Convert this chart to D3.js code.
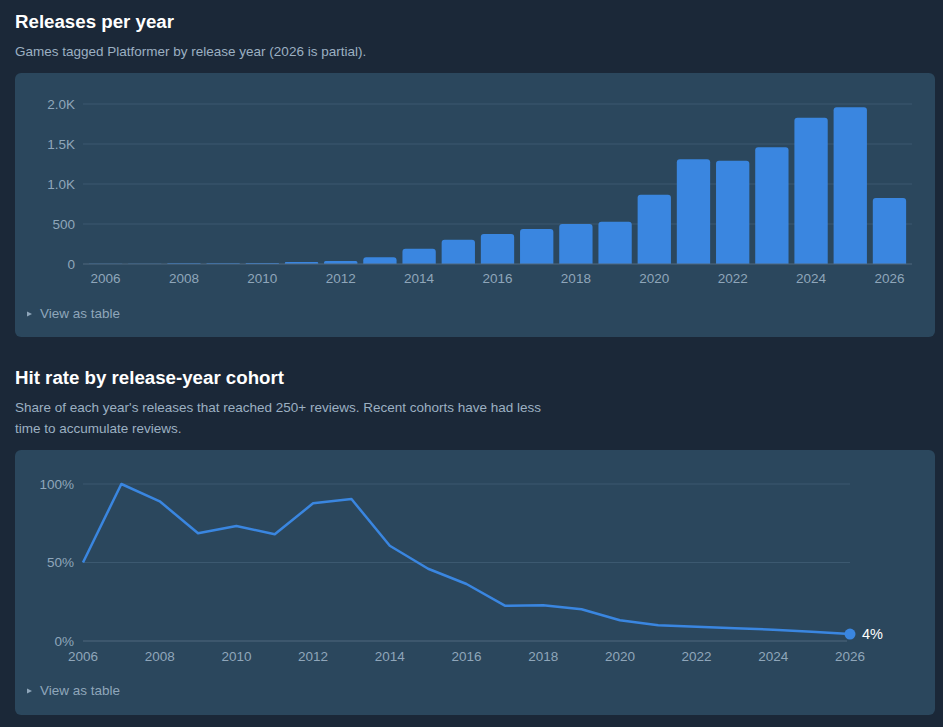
<!DOCTYPE html>
<html>
<head>
<meta charset="utf-8">
<script src="https://cdn.jsdelivr.net/npm/d3@7"></script>
<style>
  body { margin: 0; background: #1b2838; font-family: "Liberation Sans", Arial, sans-serif; }
  svg { display: block; }
</style>
</head>
<body>
<svg id="chart" width="943" height="727"></svg>
<script>
// releases per year (games tagged Platformer)
const years = d3.range(2006, 2027);
const releases = [2, 3, 8, 10, 12, 25, 38, 83, 192, 304, 375, 437, 500, 529, 867, 1308, 1292, 1458, 1829, 1960, 825];
const releaseTicks = [0, 500, 1000, 1500, 2000];

// hit rate (share reaching 250+ reviews), percent
const hitRate = [50, 100, 89, 68.6, 73.2, 68, 87.7, 90.4, 60.7, 46, 36.3, 22.5, 22.7, 20.2, 13.2, 10, 9.1, 8.1, 7.2, 5.9, 4.4];
const hitTicks = [0, 50, 100];
const yearTicks = [2006, 2008, 2010, 2012, 2014, 2016, 2018, 2020, 2022, 2024, 2026];

const svg = d3.select("#chart");
const blue = "#3a86e0";
const tickColor = "#8fa6ba";
const gridColor = "#3c5970";
const fs = 13.5;

function header(y, title, lines) {
  svg.append("text")
    .attr("x", 15).attr("y", y)
    .attr("fill", "#fff").attr("font-size", 18.7).attr("font-weight", "bold")
    .text(title);
  lines.forEach((l, i) => {
    svg.append("text")
      .attr("x", 15).attr("y", y + 28 + i * 21)
      .attr("fill", "#9cb0c2").attr("font-size", fs)
      .text(l);
  });
}

function card(y, h) {
  svg.append("rect")
    .attr("x", 15).attr("y", y).attr("width", 920).attr("height", h)
    .attr("rx", 6).attr("fill", "#2b475d");
}

function viewAsTable(y) {
  svg.append("path")
    .attr("d", `M27,${y - 6.5}L32,${y - 4}L27,${y - 1.5}Z`)
    .attr("fill", tickColor);
  svg.append("text")
    .attr("x", 40).attr("y", y)
    .attr("fill", tickColor).attr("font-size", fs)
    .text("View as table");
}

// ---- Releases per year ----
header(28, "Releases per year", ["Games tagged Platformer by release year (2026 is partial)."]);
card(73, 264);

const x = d3.scaleBand()
  .domain(years)
  .range([83, 912])
  .padding(0.15);

const y = d3.scaleLinear()
  .domain([0, 2000])
  .range([264, 104]);

const g1 = svg.append("g");

g1.selectAll(".grid")
  .data(releaseTicks.filter(d => d > 0))
  .join("line")
  .attr("x1", 83).attr("x2", 912)
  .attr("y1", d => y(d)).attr("y2", d => y(d))
  .attr("stroke", gridColor);

g1.selectAll(".ylab")
  .data(releaseTicks)
  .join("text")
  .attr("x", 75).attr("y", d => y(d))
  .attr("dy", "0.35em")
  .attr("text-anchor", "end")
  .attr("fill", tickColor).attr("font-size", fs)
  .text(d => d < 1000 ? String(d) : (d / 1000).toFixed(1) + "K");

// bars with rounded tops
g1.selectAll(".bar")
  .data(years.map((yr, i) => ({ yr, v: releases[i] })))
  .join("path")
  .attr("fill", blue)
  .attr("d", d => {
    const x0 = x(d.yr), w = x.bandwidth();
    const top = y(d.v), base = y(0);
    const r = Math.min(3, (base - top) / 2);
    return `M${x0},${base}V${top + r}Q${x0},${top} ${x0 + r},${top}H${x0 + w - r}Q${x0 + w},${top} ${x0 + w},${top + r}V${base}Z`;
  });

g1.append("line")
  .attr("x1", 83).attr("x2", 912)
  .attr("y1", y(0)).attr("y2", y(0))
  .attr("stroke", "#51697e");

g1.selectAll(".xlab")
  .data(yearTicks)
  .join("text")
  .attr("x", d => x(d) + x.bandwidth() / 2)
  .attr("y", 283)
  .attr("text-anchor", "middle")
  .attr("fill", tickColor).attr("font-size", fs)
  .text(d => d);

viewAsTable(318);

// ---- Hit rate ----
header(384, "Hit rate by release-year cohort", [
  "Share of each year's releases that reached 250+ reviews. Recent cohorts have had less",
  "time to accumulate reviews."
]);
card(450, 265);

const x2 = d3.scaleLinear()
  .domain([2006, 2026])
  .range([83, 850]);

const y2 = d3.scaleLinear()
  .domain([0, 100])
  .range([641, 484]);

const g2 = svg.append("g");

g2.selectAll(".grid")
  .data(hitTicks.filter(d => d > 0))
  .join("line")
  .attr("x1", 83).attr("x2", 850)
  .attr("y1", d => y2(d)).attr("y2", d => y2(d))
  .attr("stroke", gridColor);

g2.append("line")
  .attr("x1", 83).attr("x2", 847)
  .attr("y1", y2(0)).attr("y2", y2(0))
  .attr("stroke", "#51697e");

g2.selectAll(".ylab")
  .data(hitTicks)
  .join("text")
  .attr("x", 74).attr("y", d => y2(d))
  .attr("dy", "0.35em")
  .attr("text-anchor", "end")
  .attr("fill", tickColor).attr("font-size", fs)
  .text(d => d + "%");

g2.selectAll(".xlab")
  .data(yearTicks)
  .join("text")
  .attr("x", d => x2(d))
  .attr("y", 661)
  .attr("text-anchor", "middle")
  .attr("fill", tickColor).attr("font-size", fs)
  .text(d => d);

const pts = years.map((yr, i) => ({ yr, v: hitRate[i] }));
const line = d3.line()
  .x(d => x2(d.yr))
  .y(d => y2(d.v));

g2.append("path")
  .datum(pts)
  .attr("fill", "none")
  .attr("stroke", blue)
  .attr("stroke-width", 2.5)
  .attr("stroke-linejoin", "round")
  .attr("d", line);

const last = pts[pts.length - 1];
g2.append("circle")
  .attr("cx", x2(last.yr)).attr("cy", y2(last.v))
  .attr("r", 5.5).attr("fill", blue);

g2.append("text")
  .attr("x", x2(last.yr) + 12).attr("y", y2(last.v))
  .attr("dy", "0.35em")
  .attr("fill", "#fff").attr("font-size", 14.5)
  .text(Math.round(last.v) + "%");

viewAsTable(695);
</script>
</body>
</html>
